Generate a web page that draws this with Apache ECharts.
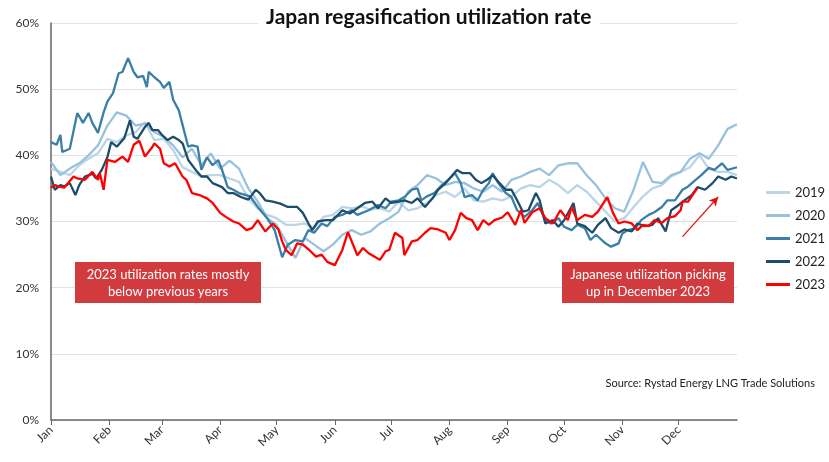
<!DOCTYPE html>
<html>
<head>
<meta charset="utf-8">
<script src="https://cdn.jsdelivr.net/npm/echarts@6/dist/echarts.min.js"></script>
<style>
  html, body { margin: 0; padding: 0; background: #fff; }
  #chart { width: 829px; height: 462px; }
</style>
</head>
<body>
<div id="chart"></div>
<script>
// utilisation (%) by day of year (0 = Jan 1)
var years = ["2019", "2020", "2021", "2022", "2023"];
var monthNames = ["Jan", "Feb", "Mar", "Apr", "May", "Jun", "Jul", "Aug", "Sep", "Oct", "Nov", "Dec"];
var monthStarts = [0, 31, 59, 90, 120, 151, 181, 212, 243, 273, 304, 334];

// 2019 and 2020 read every 5 days
var step = 5;
var y2019 = [38.0, 37.5, 37.0, 38.5, 39.5, 40.3, 42.5, 42.0, 43.0, 43.5,
  45.0, 42.3, 42.5, 40.8, 38.2, 37.5, 36.8, 37.0, 37.0, 36.5,
  36.0, 33.5, 32.0, 31.0, 30.5, 29.5, 29.5, 29.7, 29.0, 30.7,
  31.0, 32.2, 32.0, 32.3, 31.8, 32.0, 31.5, 33.0, 31.7, 32.0,
  32.8, 34.0, 34.5, 33.7, 35.0, 33.2, 33.0, 33.5, 33.2, 33.8,
  35.0, 35.5, 35.2, 36.3, 35.5, 34.3, 35.5, 34.5, 33.0, 31.5,
  30.0, 30.5, 32.2, 33.8, 35.0, 35.5, 36.8, 37.5, 38.2, 40.0,
  38.0, 37.5, 37.5, 37.0];
var y2020 = [39.0, 37.0, 38.0, 38.8, 40.0, 41.5, 44.5, 46.5, 46.0, 44.5,
  44.8, 43.5, 42.8, 41.5, 39.7, 41.0, 38.5, 40.3, 38.0, 39.2,
  38.0, 35.0, 33.0, 30.5, 29.5, 27.0, 24.5, 27.5, 26.5, 25.5,
  26.5, 28.0, 28.7, 28.0, 28.5, 29.7, 30.5, 31.5, 34.5, 35.5,
  37.0, 36.5, 35.5, 36.0, 35.8, 35.0, 34.5, 35.5, 34.5, 36.3,
  36.8, 37.5, 38.0, 37.0, 38.5, 38.8, 38.8, 37.0, 35.5, 33.5,
  32.0, 31.5, 34.8, 39.0, 36.0, 35.8, 37.0, 37.5, 39.5, 40.3,
  39.5, 41.5, 44.0, 44.7];

// 2021-2023 read at the turning points of each line
var days2021 = [0, 3, 5, 6, 10, 14, 17, 20, 22, 25, 28, 30, 33, 36, 38, 41, 44, 46, 49, 51,
  52, 55, 58, 60, 63, 65, 68, 70, 73, 75, 78, 80, 83, 86, 89, 91, 94, 97, 100, 106,
  110, 115, 119, 123, 126, 130, 134, 137, 140, 144, 147, 151, 155, 160, 163, 169, 174, 178, 181, 185,
  188, 192, 195, 197, 200, 204, 208, 211, 215, 218, 220, 224, 227, 230, 233, 235, 238, 242, 245, 248,
  252, 256, 259, 263, 266, 270, 273, 277, 280, 284, 287, 290, 295, 298, 302, 304, 307, 311, 314, 318,
  321, 325, 328, 332, 336, 339, 343, 346, 350, 353, 357, 360, 365];
var y2021 = [42.0, 41.6, 43.1, 40.5, 41.0, 46.4, 44.9, 46.4, 44.9, 43.4, 46.5, 48.1, 49.4, 52.4, 52.6, 54.7, 52.6, 51.8, 52.0, 50.3,
  52.6, 51.8, 51.1, 50.2, 51.1, 48.4, 46.8, 44.6, 41.3, 41.5, 41.3, 37.8, 39.7, 38.5, 39.3, 37.8, 35.2, 34.8, 34.3, 33.8,
  32.2, 30.5, 28.7, 24.6, 26.5, 27.2, 27.0, 28.7, 28.3, 29.7, 29.3, 30.7, 31.0, 31.7, 31.0, 31.7, 32.5, 32.0, 33.0, 33.2,
  33.7, 34.8, 35.0, 33.2, 33.8, 34.3, 35.5, 36.2, 37.3, 35.8, 33.7, 34.0, 33.2, 34.8, 35.8, 37.3, 35.8, 34.3, 33.7, 31.7,
  30.7, 31.7, 32.8, 30.2, 29.7, 30.5, 29.2, 28.7, 29.5, 29.0, 27.2, 28.0, 26.7, 26.2, 26.7, 28.2, 28.7, 29.0, 30.2, 31.0,
  31.4, 32.2, 33.2, 33.2, 34.8, 35.3, 36.3, 37.0, 38.1, 37.8, 38.8, 37.8, 38.2];

var days2022 = [0, 2, 5, 7, 10, 13, 15, 18, 22, 24, 27, 30, 32, 35, 39, 42, 44, 46, 50, 52,
  54, 57, 59, 62, 65, 68, 70, 73, 77, 80, 83, 86, 91, 94, 97, 101, 105, 109, 111, 114,
  118, 122, 126, 131, 134, 137, 139, 142, 146, 150, 155, 159, 163, 167, 171, 174, 178, 181, 185, 188,
  192, 195, 199, 203, 206, 210, 213, 216, 219, 223, 226, 229, 232, 235, 238, 242, 245, 248, 251, 254,
  258, 260, 263, 267, 270, 273, 278, 280, 284, 288, 291, 295, 298, 302, 305, 309, 312, 316, 320, 323,
  327, 330, 334, 337, 341, 344, 348, 352, 355, 359, 362, 365];
var y2022 = [36.8, 34.8, 35.5, 35.3, 35.8, 34.0, 35.5, 36.8, 37.2, 36.5, 37.8, 39.7, 42.0, 41.3, 42.6, 45.3, 42.8, 42.5, 44.3, 44.9,
  43.8, 43.8, 43.1, 42.3, 42.8, 42.3, 41.8, 39.3, 37.8, 36.8, 36.8, 35.8, 35.2, 34.3, 34.3, 33.7, 33.3, 34.8, 34.3, 33.2,
  33.0, 32.7, 32.2, 32.2, 31.3, 29.7, 28.7, 30.0, 30.2, 30.2, 31.7, 31.2, 32.0, 32.8, 33.0, 32.0, 33.5, 32.8, 33.0, 33.2,
  32.8, 33.5, 32.2, 33.5, 34.8, 35.8, 36.8, 37.8, 37.3, 37.3, 36.3, 35.8, 36.3, 37.0, 36.0, 34.8, 34.8, 33.2, 31.5, 31.7,
  34.3, 33.2, 29.7, 30.2, 29.2, 30.2, 32.8, 29.7, 29.3, 28.3, 29.5, 30.5, 29.0, 28.3, 28.8, 28.5, 29.7, 29.3, 29.5, 30.5,
  28.5, 31.7, 32.5, 33.2, 34.0, 35.2, 34.8, 35.8, 36.8, 36.3, 36.8, 36.5];

var days2023 = [0, 2, 4, 7, 12, 14, 18, 22, 25, 26, 28, 30, 34, 38, 41, 44, 47, 50, 54, 55,
  58, 60, 63, 66, 70, 72, 75, 79, 83, 86, 90, 93, 97, 100, 104, 107, 110, 114, 118, 121,
  123, 125, 128, 131, 134, 137, 141, 144, 147, 151, 155, 158, 160, 163, 166, 169, 172, 175, 178, 180,
  183, 187, 188, 192, 195, 199, 202, 206, 210, 212, 215, 218, 221, 224, 227, 230, 233, 236, 240, 243,
  247, 250, 252, 256, 260, 263, 267, 271, 275, 277, 280, 284, 288, 291, 294, 296, 299, 302, 305, 309,
  312, 315, 318, 321, 325, 328, 332, 335, 336, 339, 342, 344];
var y2023 = [35.1, 35.5, 35.3, 35.1, 36.8, 36.5, 36.3, 37.5, 36.3, 37.3, 34.8, 39.3, 39.0, 39.8, 39.0, 41.6, 42.2, 39.8, 41.3, 41.8,
  41.0, 38.8, 38.3, 38.8, 36.8, 36.3, 34.3, 34.0, 33.5, 32.8, 31.3, 30.7, 30.0, 29.7, 28.7, 29.0, 30.2, 28.5, 29.7, 28.8,
  27.0, 25.7, 24.9, 26.7, 26.5, 25.8, 24.7, 25.0, 23.9, 23.4, 25.7, 28.4, 27.0, 24.9, 26.0, 25.2, 24.7, 24.2, 25.5, 25.7,
  28.3, 27.5, 24.9, 27.0, 27.2, 28.3, 29.0, 28.8, 28.3, 27.2, 28.7, 31.3, 30.5, 30.2, 28.7, 30.2, 29.5, 30.2, 30.6, 31.4,
  29.5, 31.7, 29.8, 31.4, 32.0, 30.5, 29.7, 31.7, 30.2, 32.2, 30.2, 31.0, 30.7, 31.5, 32.8, 33.7, 31.3, 29.7, 30.0, 29.7,
  28.7, 29.5, 29.3, 30.2, 29.8, 30.5, 30.8, 31.7, 33.0, 33.0, 34.3, 35.1];

var colors = ["#b9d5e6", "#98c2dc", "#3a7fa6", "#1e4d6b", "#ff0000"];

function stepPoints(values) {
  var pts = [];
  for (var i = 0; i < values.length; i++) {
    pts.push([Math.min(i * step, 365), values[i]]);
  }
  return pts;
}
function dayPoints(days, values) {
  return days.map(function(d, i) { return [d, values[i]]; });
}

var allPoints = [
  stepPoints(y2019),
  stepPoints(y2020),
  dayPoints(days2021, y2021),
  dayPoints(days2022, y2022),
  dayPoints(days2023, y2023)
];

var font = "Lato, 'Open Sans', sans-serif";
var chart = echarts.init(document.getElementById("chart"));

var series = years.map(function(y, i) {
  var s = {
    name: y,
    type: "line",
    data: allPoints[i],
    showSymbol: false,
    symbol: "none",
    lineStyle: { color: colors[i], width: 2.3 },
    itemStyle: { color: colors[i] },
    z: 2 + i,
    animation: false
  };
  if (y === "2023") {
    s.markLine = {
      silent: true,
      symbol: ["none", "arrow"],
      symbolSize: [7, 9],
      label: { show: false },
      lineStyle: { color: "#e01010", width: 1.2, type: "solid" },
      data: [[{ coord: [336, 27.7] }, { coord: [355, 33.7] }]]
    };
  }
  return s;
});

chart.setOption({
  animation: false,
  textStyle: { fontFamily: font },
  title: {
    text: "Japan regasification utilization rate",
    left: 258,
    top: 5,
    padding: [2, 8],
    backgroundColor: "#fff",
    textStyle: { fontSize: 21, fontWeight: "bold", color: "#111", fontFamily: font }
  },
  legend: {
    orient: "vertical",
    left: 761,
    top: 181,
    itemWidth: 24,
    itemHeight: 3,
    itemGap: 10,
    icon: "rect",
    data: years,
    textStyle: { fontSize: 13, color: "#222" }
  },
  grid: { left: 51, right: 92, top: 23, bottom: 42 },
  xAxis: {
    type: "value",
    min: 0,
    max: 365,
    splitLine: { show: false },
    axisLine: { lineStyle: { color: "#666", width: 1.5 } },
    axisTick: { show: true, customValues: monthStarts, length: 5, lineStyle: { color: "#666" } },
    axisLabel: {
      customValues: monthStarts,
      rotate: 45,
      fontSize: 12,
      color: "#333",
      margin: 8,
      formatter: function(v) {
        var idx = monthStarts.indexOf(v);
        return idx >= 0 ? monthNames[idx] : "";
      }
    }
  },
  yAxis: {
    type: "value",
    min: 0,
    max: 60,
    interval: 10,
    axisLine: { show: true, lineStyle: { color: "#666", width: 1.5 } },
    axisTick: { show: false },
    splitLine: { lineStyle: { color: "#e3e3e3", width: 1 } },
    axisLabel: { formatter: "{value}%", fontSize: 12, color: "#333", margin: 12 }
  },
  graphic: [
    { type: "rect", z: 20, shape: { x: 75, y: 262, width: 186, height: 41 }, style: { fill: "#d13b3e" } },
    { type: "text", z: 21, x: 168, y: 266, style: {
      text: "2023 utilization rates mostly\nbelow previous years", fill: "#fff",
      font: "13px " + font, align: "center", verticalAlign: "top", lineHeight: 17 } },
    { type: "rect", z: 20, shape: { x: 562, y: 262, width: 172, height: 41 }, style: { fill: "#d13b3e" } },
    { type: "text", z: 21, x: 648, y: 266, style: {
      text: "Japanese utilization picking\nup in December 2023", fill: "#fff",
      font: "13px " + font, align: "center", verticalAlign: "top", lineHeight: 17 } },
    { type: "text", z: 20, x: 815, y: 378, style: {
      text: "Source: Rystad Energy LNG Trade Solutions", fill: "#222",
      font: "11px " + font, align: "right", verticalAlign: "top" } }
  ],
  series: series
});
</script>
</body>
</html>
